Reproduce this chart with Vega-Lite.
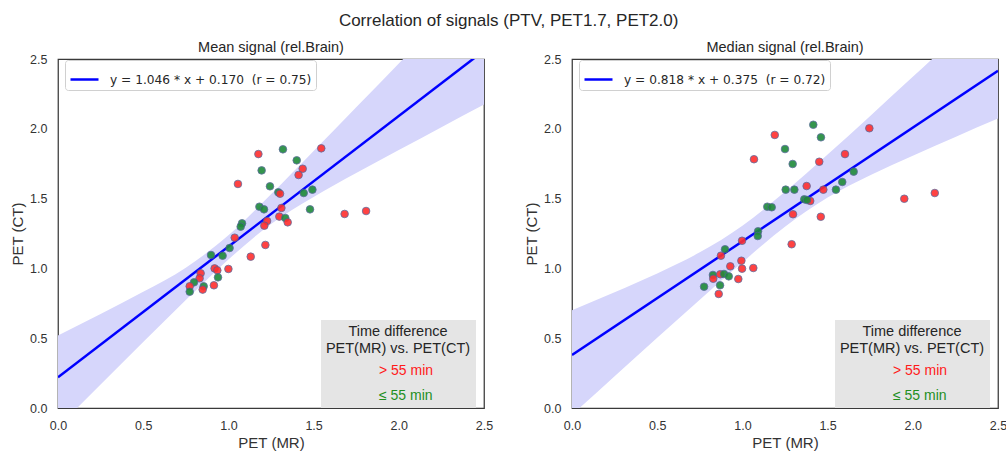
{
  "$schema": "https://vega.github.io/schema/vega-lite/v6.json",
  "autosize": {"type": "pad"},
  "padding": {"left": 9, "top": 11, "right": 0, "bottom": 0},
  "title": {"text": "Correlation of signals (PTV, PET1.7, PET2.0)", "fontSize": 17, "fontWeight": "normal", "anchor": "middle", "offset": 9, "color": "#262626"},
  "datasets": {
    "pts": [
      {"panel": "mean", "x": 1.176, "y": 1.819, "g": "> 55 min"},
      {"panel": "mean", "x": 1.320, "y": 1.853, "g": "≤ 55 min"},
      {"panel": "mean", "x": 1.545, "y": 1.860, "g": "> 55 min"},
      {"panel": "mean", "x": 1.401, "y": 1.774, "g": "≤ 55 min"},
      {"panel": "mean", "x": 1.436, "y": 1.714, "g": "> 55 min"},
      {"panel": "mean", "x": 1.412, "y": 1.669, "g": "> 55 min"},
      {"panel": "mean", "x": 1.195, "y": 1.702, "g": "≤ 55 min"},
      {"panel": "mean", "x": 1.056, "y": 1.605, "g": "> 55 min"},
      {"panel": "mean", "x": 1.244, "y": 1.588, "g": "≤ 55 min"},
      {"panel": "mean", "x": 1.293, "y": 1.545, "g": "≤ 55 min"},
      {"panel": "mean", "x": 1.303, "y": 1.535, "g": "> 55 min"},
      {"panel": "mean", "x": 1.442, "y": 1.540, "g": "≤ 55 min"},
      {"panel": "mean", "x": 1.493, "y": 1.564, "g": "≤ 55 min"},
      {"panel": "mean", "x": 1.182, "y": 1.442, "g": "≤ 55 min"},
      {"panel": "mean", "x": 1.209, "y": 1.423, "g": "≤ 55 min"},
      {"panel": "mean", "x": 1.311, "y": 1.433, "g": "> 55 min"},
      {"panel": "mean", "x": 1.479, "y": 1.423, "g": "≤ 55 min"},
      {"panel": "mean", "x": 1.682, "y": 1.390, "g": "> 55 min"},
      {"panel": "mean", "x": 1.808, "y": 1.411, "g": "> 55 min"},
      {"panel": "mean", "x": 1.227, "y": 1.340, "g": "> 55 min"},
      {"panel": "mean", "x": 1.211, "y": 1.306, "g": "> 55 min"},
      {"panel": "mean", "x": 1.299, "y": 1.371, "g": "> 55 min"},
      {"panel": "mean", "x": 1.334, "y": 1.361, "g": "≤ 55 min"},
      {"panel": "mean", "x": 1.348, "y": 1.330, "g": "> 55 min"},
      {"panel": "mean", "x": 1.080, "y": 1.323, "g": "≤ 55 min"},
      {"panel": "mean", "x": 1.072, "y": 1.299, "g": "≤ 55 min"},
      {"panel": "mean", "x": 1.037, "y": 1.220, "g": "> 55 min"},
      {"panel": "mean", "x": 1.007, "y": 1.146, "g": "≤ 55 min"},
      {"panel": "mean", "x": 1.217, "y": 1.168, "g": "> 55 min"},
      {"panel": "mean", "x": 1.131, "y": 1.084, "g": "> 55 min"},
      {"panel": "mean", "x": 0.898, "y": 1.096, "g": "≤ 55 min"},
      {"panel": "mean", "x": 0.966, "y": 1.091, "g": "≤ 55 min"},
      {"panel": "mean", "x": 0.919, "y": 1.000, "g": "> 55 min"},
      {"panel": "mean", "x": 0.935, "y": 0.986, "g": "> 55 min"},
      {"panel": "mean", "x": 1.000, "y": 0.996, "g": "> 55 min"},
      {"panel": "mean", "x": 0.939, "y": 0.936, "g": "≤ 55 min"},
      {"panel": "mean", "x": 0.837, "y": 0.965, "g": "> 55 min"},
      {"panel": "mean", "x": 0.831, "y": 0.929, "g": "> 55 min"},
      {"panel": "mean", "x": 0.798, "y": 0.900, "g": "≤ 55 min"},
      {"panel": "mean", "x": 0.773, "y": 0.872, "g": "> 55 min"},
      {"panel": "mean", "x": 0.773, "y": 0.833, "g": "≤ 55 min"},
      {"panel": "mean", "x": 0.855, "y": 0.872, "g": "≤ 55 min"},
      {"panel": "mean", "x": 0.849, "y": 0.848, "g": "> 55 min"},
      {"panel": "mean", "x": 0.915, "y": 0.879, "g": "> 55 min"},
      {"panel": "median", "x": 1.416, "y": 2.029, "g": "≤ 55 min"},
      {"panel": "median", "x": 1.745, "y": 2.004, "g": "> 55 min"},
      {"panel": "median", "x": 1.190, "y": 1.956, "g": "> 55 min"},
      {"panel": "median", "x": 1.461, "y": 1.939, "g": "≤ 55 min"},
      {"panel": "median", "x": 1.250, "y": 1.855, "g": "≤ 55 min"},
      {"panel": "median", "x": 1.068, "y": 1.782, "g": "> 55 min"},
      {"panel": "median", "x": 1.451, "y": 1.764, "g": "> 55 min"},
      {"panel": "median", "x": 1.295, "y": 1.748, "g": "≤ 55 min"},
      {"panel": "median", "x": 1.602, "y": 1.819, "g": "> 55 min"},
      {"panel": "median", "x": 1.653, "y": 1.693, "g": "≤ 55 min"},
      {"panel": "median", "x": 1.586, "y": 1.619, "g": "≤ 55 min"},
      {"panel": "median", "x": 1.549, "y": 1.564, "g": "≤ 55 min"},
      {"panel": "median", "x": 1.475, "y": 1.564, "g": "> 55 min"},
      {"panel": "median", "x": 1.377, "y": 1.590, "g": "> 55 min"},
      {"panel": "median", "x": 1.254, "y": 1.564, "g": "≤ 55 min"},
      {"panel": "median", "x": 1.305, "y": 1.564, "g": "≤ 55 min"},
      {"panel": "median", "x": 1.363, "y": 1.495, "g": "≤ 55 min"},
      {"panel": "median", "x": 1.398, "y": 1.483, "g": "> 55 min"},
      {"panel": "median", "x": 1.379, "y": 1.490, "g": "≤ 55 min"},
      {"panel": "median", "x": 1.950, "y": 1.499, "g": "> 55 min"},
      {"panel": "median", "x": 2.129, "y": 1.540, "g": "> 55 min"},
      {"panel": "median", "x": 1.146, "y": 1.442, "g": "≤ 55 min"},
      {"panel": "median", "x": 1.172, "y": 1.438, "g": "≤ 55 min"},
      {"panel": "median", "x": 1.297, "y": 1.388, "g": "> 55 min"},
      {"panel": "median", "x": 1.460, "y": 1.370, "g": "> 55 min"},
      {"panel": "median", "x": 1.092, "y": 1.266, "g": "≤ 55 min"},
      {"panel": "median", "x": 1.090, "y": 1.232, "g": "≤ 55 min"},
      {"panel": "median", "x": 0.998, "y": 1.198, "g": "> 55 min"},
      {"panel": "median", "x": 1.289, "y": 1.173, "g": "> 55 min"},
      {"panel": "median", "x": 0.898, "y": 1.137, "g": "≤ 55 min"},
      {"panel": "median", "x": 0.874, "y": 1.091, "g": "> 55 min"},
      {"panel": "median", "x": 0.994, "y": 1.055, "g": "> 55 min"},
      {"panel": "median", "x": 0.998, "y": 0.998, "g": "> 55 min"},
      {"panel": "median", "x": 0.929, "y": 1.015, "g": "> 55 min"},
      {"panel": "median", "x": 1.064, "y": 1.003, "g": "> 55 min"},
      {"panel": "median", "x": 0.827, "y": 0.953, "g": "≤ 55 min"},
      {"panel": "median", "x": 0.870, "y": 0.958, "g": "> 55 min"},
      {"panel": "median", "x": 0.892, "y": 0.960, "g": "≤ 55 min"},
      {"panel": "median", "x": 0.829, "y": 0.926, "g": "> 55 min"},
      {"panel": "median", "x": 0.920, "y": 0.943, "g": "≤ 55 min"},
      {"panel": "median", "x": 0.976, "y": 0.924, "g": "> 55 min"},
      {"panel": "median", "x": 0.775, "y": 0.869, "g": "≤ 55 min"},
      {"panel": "median", "x": 0.869, "y": 0.879, "g": "≤ 55 min"},
      {"panel": "median", "x": 0.861, "y": 0.817, "g": "> 55 min"}
    ],
    "band": [
      {"panel": "mean", "x": 0.0, "lo": -0.137, "hi": 0.519},
      {"panel": "mean", "x": 0.25, "lo": 0.168, "hi": 0.674},
      {"panel": "mean", "x": 0.5, "lo": 0.472, "hi": 0.832},
      {"panel": "mean", "x": 0.75, "lo": 0.773, "hi": 1.005},
      {"panel": "mean", "x": 1.0, "lo": 1.064, "hi": 1.237},
      {"panel": "mean", "x": 1.25, "lo": 1.318, "hi": 1.531},
      {"panel": "mean", "x": 1.5, "lo": 1.512, "hi": 1.841},
      {"panel": "mean", "x": 1.75, "lo": 1.683, "hi": 2.154},
      {"panel": "mean", "x": 2.0, "lo": 1.848, "hi": 2.468},
      {"panel": "mean", "x": 2.25, "lo": 2.012, "hi": 2.781},
      {"panel": "mean", "x": 2.5, "lo": 2.174, "hi": 3.098},
      {"panel": "median", "x": 0.0, "lo": -0.049, "hi": 0.701},
      {"panel": "median", "x": 0.25, "lo": 0.228, "hi": 0.830},
      {"panel": "median", "x": 0.5, "lo": 0.503, "hi": 0.964},
      {"panel": "median", "x": 0.75, "lo": 0.776, "hi": 1.115},
      {"panel": "median", "x": 1.0, "lo": 1.044, "hi": 1.306},
      {"panel": "median", "x": 1.25, "lo": 1.298, "hi": 1.549},
      {"panel": "median", "x": 1.5, "lo": 1.507, "hi": 1.816},
      {"panel": "median", "x": 1.75, "lo": 1.667, "hi": 2.092},
      {"panel": "median", "x": 2.0, "lo": 1.807, "hi": 2.372},
      {"panel": "median", "x": 2.25, "lo": 1.942, "hi": 2.654},
      {"panel": "median", "x": 2.5, "lo": 2.073, "hi": 2.935}
    ],
    "fit": [
      {"panel": "mean", "x": 0.0, "y": 0.22, "label": "y = 1.046 * x + 0.170\u00a0\u00a0(r = 0.75)"},
      {"panel": "mean", "x": 2.5, "y": 2.56, "label": "y = 1.046 * x + 0.170\u00a0\u00a0(r = 0.75)"},
      {"panel": "median", "x": 0.0, "y": 0.38, "label": "y = 0.818 * x + 0.375\u00a0\u00a0(r = 0.72)"},
      {"panel": "median", "x": 2.5, "y": 2.415, "label": "y = 0.818 * x + 0.375\u00a0\u00a0(r = 0.72)"}
    ]
  },
  "spacing": 29,
  "resolve": {"scale": {"color": "independent"}, "legend": {"color": "independent"}},
  "hconcat": [
    {
      "title": "Mean signal (rel.Brain)",
      "width": 426,
      "height": 349,
      "resolve": {"scale": {"color": "independent"}, "legend": {"color": "independent"}},
      "layer": [
        {
          "data": {"name": "band"},
          "transform": [{"filter": "datum.panel === 'mean'"}],
          "mark": {"type": "area", "color": "#d6d6fb", "clip": true, "interpolate": "monotone"},
          "encoding": {
            "x": {"field": "x", "type": "quantitative", "scale": {"domain": [0, 2.5], "nice": false}, "axis": {"title": "PET (MR)", "values": [0, 0.5, 1, 1.5, 2, 2.5], "format": ".1f"}},
            "y": {"field": "lo", "type": "quantitative", "scale": {"domain": [0, 2.5], "nice": false}, "axis": {"title": "PET (CT)", "values": [0, 0.5, 1, 1.5, 2, 2.5], "format": ".1f"}},
            "y2": {"field": "hi"}
          }
        },
        {
          "data": {"name": "fit"},
          "transform": [{"filter": "datum.panel === 'mean'"}],
          "mark": {"type": "line", "strokeWidth": 2.5, "clip": true},
          "encoding": {
            "x": {"field": "x", "type": "quantitative"},
            "y": {"field": "y", "type": "quantitative"},
            "color": {"field": "label", "type": "nominal", "scale": {"range": ["#0000ff"]},
              "legend": {"orient": "none", "legendX": 7, "legendY": 1, "title": null, "symbolType": "stroke", "symbolStrokeWidth": 2.5, "symbolSize": 784, "labelOffset": 10, "labelFont": "DejaVu Sans", "labelFontSize": 12.2, "labelColor": "#262626", "strokeColor": "#d0d0d0", "fillColor": "#ffffff", "padding": 4, "cornerRadius": 3, "labelLimit": 400}}
          }
        },
        {
          "data": {"name": "pts"},
          "transform": [{"filter": "datum.panel === 'mean'"}],
          "mark": {"type": "circle", "size": 58, "opacity": 0.9, "stroke": "#4f5f95", "strokeWidth": 0.8},
          "encoding": {
            "x": {"field": "x", "type": "quantitative"},
            "y": {"field": "y", "type": "quantitative"},
            "color": {"field": "g", "type": "nominal", "scale": {"domain": ["> 55 min", "≤ 55 min"], "range": ["#ff2e2e", "#1f8a3a"]},
              "legend": {"orient": "none", "legendX": 263, "legendY": 261, "title": ["Time difference", "PET(MR) vs. PET(CT)"], "titleAlign": "center", "titleAnchor": "middle", "titleFontSize": 14.5, "titleFontWeight": "normal", "titleColor": "#262626", "titleLineHeight": 17, "titlePadding": 7, "labelFontSize": 14, "labelOffset": 3, "symbolSize": 0, "symbolOpacity": 0, "symbolStrokeWidth": 0, "fillColor": "#e5e5e5", "padding": 5, "rowPadding": 11,
                "encoding": {"labels": {"fill": {"value": {"expr": "datum.value === '> 55 min' ? '#ff1a1a' : '#1f8f1f'"}}}}}}
          }
        }
      ]
    },
    {
      "title": "Median signal (rel.Brain)",
      "width": 426,
      "height": 349,
      "resolve": {"scale": {"color": "independent"}, "legend": {"color": "independent"}},
      "layer": [
        {
          "data": {"name": "band"},
          "transform": [{"filter": "datum.panel === 'median'"}],
          "mark": {"type": "area", "color": "#d6d6fb", "clip": true, "interpolate": "monotone"},
          "encoding": {
            "x": {"field": "x", "type": "quantitative", "scale": {"domain": [0, 2.5], "nice": false}, "axis": {"title": "PET (MR)", "values": [0, 0.5, 1, 1.5, 2, 2.5], "format": ".1f"}},
            "y": {"field": "lo", "type": "quantitative", "scale": {"domain": [0, 2.5], "nice": false}, "axis": {"title": "PET (CT)", "values": [0, 0.5, 1, 1.5, 2, 2.5], "format": ".1f"}},
            "y2": {"field": "hi"}
          }
        },
        {
          "data": {"name": "fit"},
          "transform": [{"filter": "datum.panel === 'median'"}],
          "mark": {"type": "line", "strokeWidth": 2.5, "clip": true},
          "encoding": {
            "x": {"field": "x", "type": "quantitative"},
            "y": {"field": "y", "type": "quantitative"},
            "color": {"field": "label", "type": "nominal", "scale": {"range": ["#0000ff"]},
              "legend": {"orient": "none", "legendX": 7, "legendY": 1, "title": null, "symbolType": "stroke", "symbolStrokeWidth": 2.5, "symbolSize": 784, "labelOffset": 10, "labelFont": "DejaVu Sans", "labelFontSize": 12.2, "labelColor": "#262626", "strokeColor": "#d0d0d0", "fillColor": "#ffffff", "padding": 4, "cornerRadius": 3, "labelLimit": 400}}
          }
        },
        {
          "data": {"name": "pts"},
          "transform": [{"filter": "datum.panel === 'median'"}],
          "mark": {"type": "circle", "size": 58, "opacity": 0.9, "stroke": "#4f5f95", "strokeWidth": 0.8},
          "encoding": {
            "x": {"field": "x", "type": "quantitative"},
            "y": {"field": "y", "type": "quantitative"},
            "color": {"field": "g", "type": "nominal", "scale": {"domain": ["> 55 min", "≤ 55 min"], "range": ["#ff2e2e", "#1f8a3a"]},
              "legend": {"orient": "none", "legendX": 263, "legendY": 261, "title": ["Time difference", "PET(MR) vs. PET(CT)"], "titleAlign": "center", "titleAnchor": "middle", "titleFontSize": 14.5, "titleFontWeight": "normal", "titleColor": "#262626", "titleLineHeight": 17, "titlePadding": 7, "labelFontSize": 14, "labelOffset": 3, "symbolSize": 0, "symbolOpacity": 0, "symbolStrokeWidth": 0, "fillColor": "#e5e5e5", "padding": 5, "rowPadding": 11,
                "encoding": {"labels": {"fill": {"value": {"expr": "datum.value === '> 55 min' ? '#ff1a1a' : '#1f8f1f'"}}}}}}
          }
        }
      ]
    }
  ],
  "config": {
    "font": "Liberation Sans",
    "view": {"stroke": "#3a3a3a", "strokeWidth": 1.25},
    "axis": {"grid": false, "ticks": false, "domain": false, "labelFontSize": 12.5, "titleFontSize": 15, "labelColor": "#333333", "titleColor": "#333333", "titleFontWeight": "normal", "labelPadding": 11, "labelFlush": false},
    "axisX": {"titlePadding": 4},
    "axisY": {"titlePadding": 4},
    "title": {"fontSize": 14.5, "fontWeight": "normal", "color": "#262626", "offset": -2}
  }
}
